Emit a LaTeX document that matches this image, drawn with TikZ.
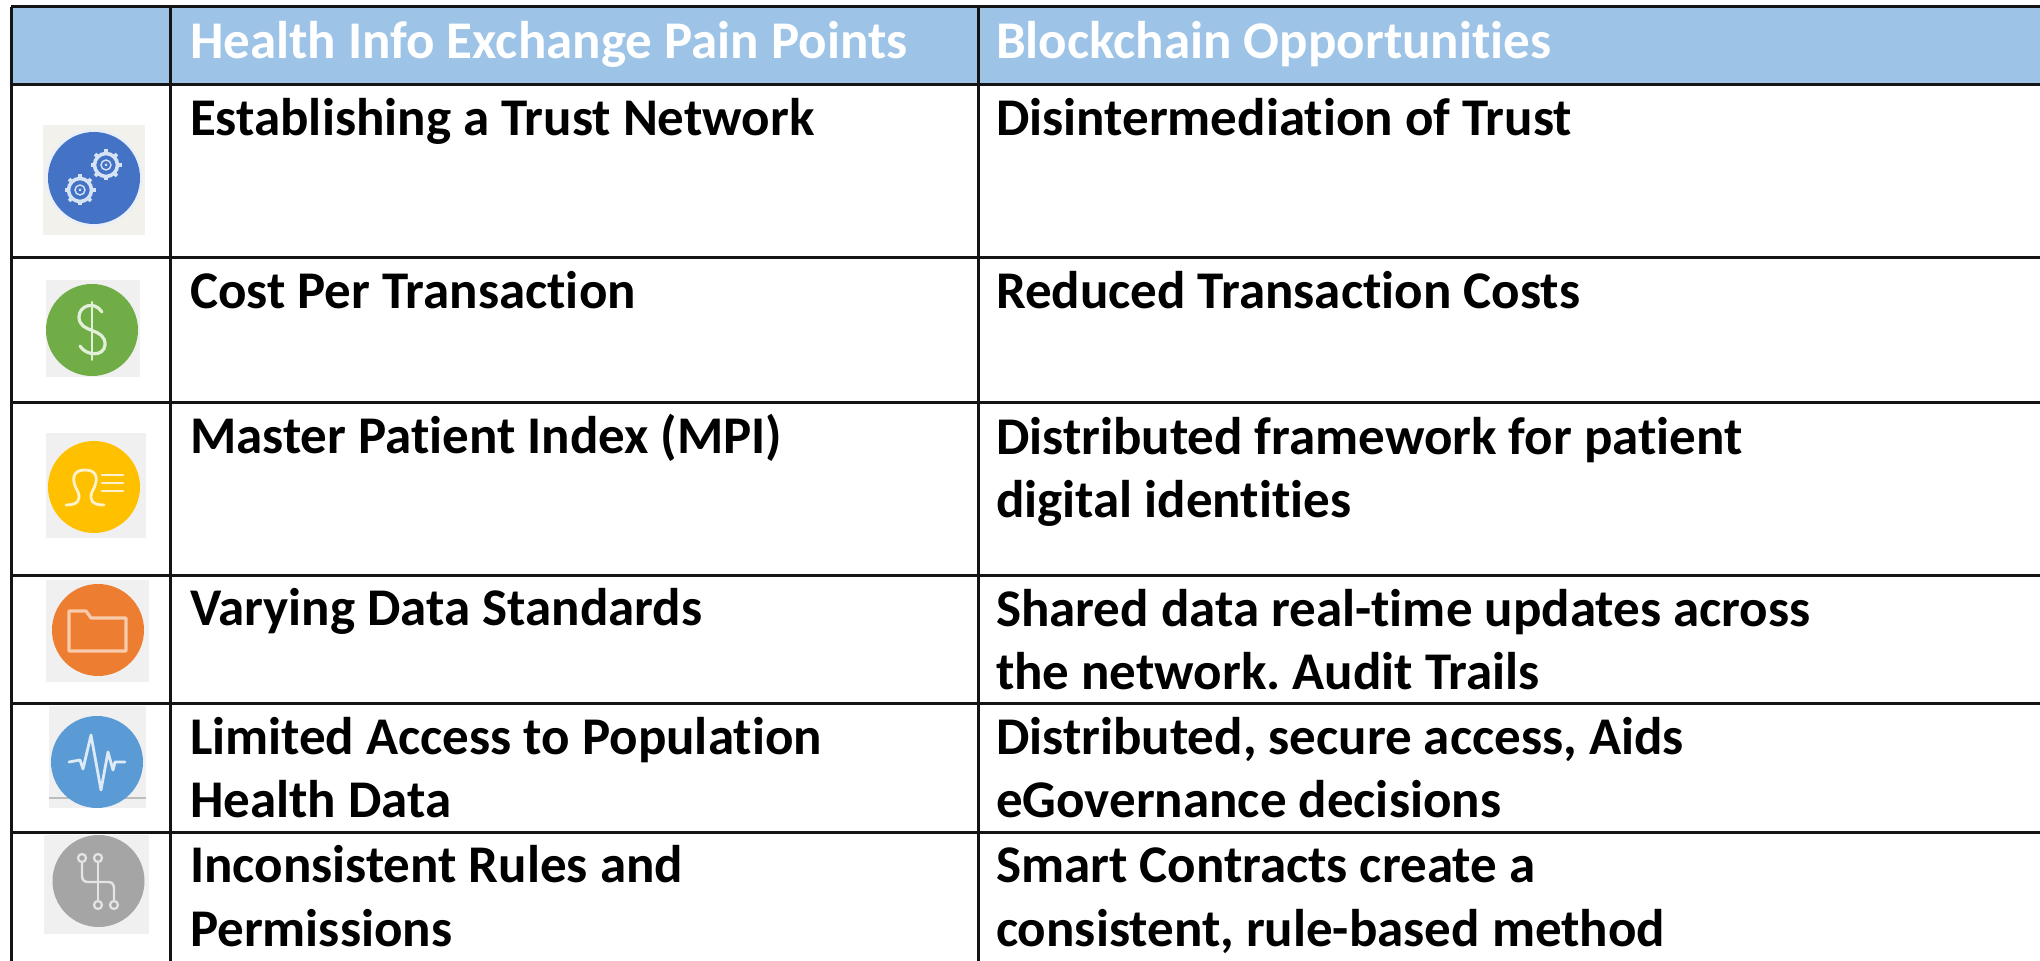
\documentclass[tikz,border=0pt]{standalone}
\usepackage{fontspec}
\setmainfont{Carlito}[Ligatures=NoCommon]
\frenchspacing
\definecolor{headblue}{HTML}{9DC3E6}
\definecolor{iconbg}{HTML}{F0F0F0}
\definecolor{warmbg}{HTML}{F3F1EC}
\definecolor{halo}{HTML}{E8EFFA}
\definecolor{discblue}{HTML}{4472C4}
\definecolor{discgreen}{HTML}{70AD47}
\definecolor{discyellow}{HTML}{FFC000}
\definecolor{discorange}{HTML}{ED7D31}
\definecolor{discsky}{HTML}{5B9BD5}
\definecolor{discgray}{HTML}{A5A5A5}
\definecolor{seam}{HTML}{BDBDBD}
\definecolor{gearc}{HTML}{D5E3F5}
\definecolor{dollarc}{HTML}{E2EFD9}
\definecolor{personc}{HTML}{FFF2CC}
\definecolor{folderc}{HTML}{F8CBAD}
\definecolor{pulsec}{HTML}{DEEBF7}
\definecolor{circuitc}{HTML}{E4E4E4}
\begin{document}
\begin{tikzpicture}[x=0.5pt,y=-0.5pt,
  cell/.style={anchor=base west,inner sep=0pt,outer sep=0pt,align=left,font=\fontsize{26.5}{31.75}\selectfont\bfseries,text=black},
  headcell/.style={cell,text=white},
  rule/.style={line width=1.5pt,draw=black!92},
  glyph/.style={line width=1.4pt,line cap=round,line join=round}]
\useasboundingbox (0,0) rectangle (2040,961);
% header band
\fill[headblue] (11,7) rectangle (2040,85);
% icon backgrounds and discs
\fill[warmbg] (43,125) rectangle (145,235);
\fill[halo] (94,178) circle (48.5);
\fill[discblue] (94,178) circle (46);
\fill[iconbg] (46,280) rectangle (140,377);
\fill[discgreen] (92,330) circle (46);
\fill[iconbg] (46,433) rectangle (146,538);
\fill[discyellow] (94,487) circle (46);
\fill[iconbg] (46,580) rectangle (149,682);
\fill[discorange] (98,630) circle (46);
\fill[iconbg] (49,706) rectangle (146,808);
\draw[seam,line width=1pt] (49,798) -- (146,798);
\fill[discsky] (97,762) circle (46);
\fill[iconbg] (44,835) rectangle (149,934);
\fill[discgray] (98.5,881) circle (46);
% gears
\foreach \cx/\cy in {106/165,80/190}{
  \draw[gearc,line width=1.8pt] (\cx,\cy) circle (11.5);
  \draw[gearc,line width=.7pt] (\cx,\cy) circle (5);
  \fill[gearc] (\cx,\cy) circle (1.5);
  \foreach \a in {0,45,...,315}
    \draw[gearc,line width=1.8pt] (\cx,\cy) ++(\a:11) -- ++(\a:4.5);
}
% dollar
\draw[glyph,dollarc,line width=1pt] (92,302) -- (92,360);
\draw[glyph,dollarc,line width=1.6pt] (102,312) .. controls (94,300) and (79,306) .. (79,317)
  .. controls (79,334) and (106,327) .. (105,345) .. controls (104,357) and (86,356) .. (80,346);
% person with list
\draw[glyph,personc] (66,505) .. controls (78,505) and (81,500) .. (78,492)
  .. controls (71,480) and (72,470) .. (85,470) .. controls (98,470) and (99,480) .. (92,492)
  .. controls (89,500) and (92,505) .. (104,505);
\foreach \yy in {475,483,491}
  \draw[glyph,personc] (102,\yy) -- (123,\yy);
% folder
\draw[folderc,line width=1.6pt,line join=round] (69,651) -- (69,611) -- (86,611) -- (91,618) -- (126,618) -- (126,651) -- cycle;
% pulse
\draw[glyph,pulsec] (69,762) -- (80,760) -- (83,769) -- (91,735) -- (101,790) -- (108,752) -- (113,770) -- (115,762) -- (125,762);
% circuit
\foreach \cx/\cy in {82/858,98/858,98/905,114/905}
  \draw[circuitc,line width=1.1pt] (\cx,\cy) circle (4);
\draw[glyph,circuitc,line width=1.2pt] (82,862) -- (82,875) .. controls (82,880) and (84,882) .. (88,882) -- (108,882)
  .. controls (112,882) and (114,884) .. (114,889) -- (114,901);
\draw[glyph,circuitc,line width=1.2pt] (98,862) -- (98,901);
% table rules
\foreach \yy in {7,85,258,403,576,704,832}
  \draw[rule] (11,\yy) -- (2040,\yy);
\foreach \xx in {11,170,978}
  \draw[rule] (\xx,7) -- (\xx,961);
% texts
\node[headcell] (h1) at (190,59) {Health Info Exchange Pain Points};
\node[headcell] (h2) at (996,59) {Blockchain Opportunities};
\node[cell] (a1) at (190,136) {Establishing a Trust Network};
\node[cell] (b1) at (996,136) {Disintermediation of Trust};
\node[cell] (a2) at (190,309) {Cost Per Transaction};
\node[cell] (b2) at (996,309) {Reduced Transaction Costs};
\node[cell] (a3) at (190,454) {Master Patient Index (MPI)};
\node[cell] (b3) at (996,518) {Distributed framework for patient\\digital identities};
\node[cell] (a4) at (190,626) {Varying Data Standards};
\node[cell] (b4) at (996,690) {Shared data real-time updates across\\the network. Audit Trails};
\node[cell] (a5) at (190,818) {Limited Access to Population\\Health Data};
\node[cell] (b5) at (996,818) {Distributed, secure access, Aids\\eGovernance decisions};
\node[cell] (a6) at (190,946) {Inconsistent Rules and\\Permissions};
\node[cell] (b6) at (996,946) {Smart Contracts create a\\consistent, rule-based method};
\end{tikzpicture}
\end{document}
